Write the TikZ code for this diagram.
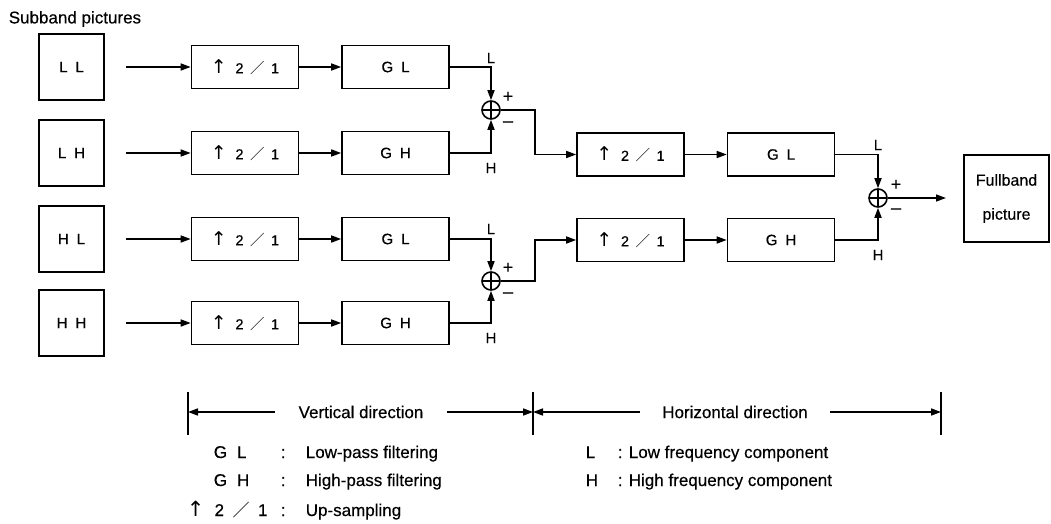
\documentclass[tikz,border=0pt]{standalone}
\usepackage{fontspec}
\setmainfont{Liberation Sans}[FakeBold=0.4]
\newfontfamily\symf{DejaVu Sans}
\newfontfamily\cjkf{Noto Sans CJK SC}
\usetikzlibrary{arrows.meta,calc}
\newcommand{\uparr}{{\symf\fontsize{19}{19}\selectfont ↑}}
\newcommand{\upsamp}{\uparr\hspace{0.6em}2\hspace{0.45em}{\cjkf ／}\hspace{0.45em}1}
\newcommand{\gapsp}{\hspace{8pt}}
\begin{document}
\begin{tikzpicture}[x=1pt,y=-1pt,line width=1.6pt,
  sub/.style={draw,minimum width=65pt,minimum height=66pt,inner sep=0pt,font=\fontsize{15}{17}\selectfont},
  upbox/.style={draw,minimum width=107pt,minimum height=43pt,inner sep=0pt,font=\fontsize{14.5}{16}\selectfont},
  gbox/.style={draw,minimum width=107pt,minimum height=43pt,inner sep=0pt,font=\fontsize{15}{17}\selectfont},
  sum/.style={draw,circle,minimum size=18pt,inner sep=0pt,
    path picture={\draw (path picture bounding box.north) -- (path picture bounding box.south)
      (path picture bounding box.west) -- (path picture bounding box.east);}},
  arr/.style={-{Triangle[length=10pt,width=7pt]}},
  lbl/.style={inner sep=0pt,font=\fontsize{15}{17}\selectfont},
  pm/.style={inner sep=0pt,font=\fontsize{18}{20}\selectfont},
  big/.style={inner sep=0pt,font=\fontsize{17}{20}\selectfont},
]
\useasboundingbox (0,0) rectangle (1051,524);
\node[big,anchor=west] (title) at (8,19) {Subband pictures};
% subband boxes
\node[sub] (LL) at (71.5,67) {L\gapsp L};
\node[sub] (LH) at (71.5,153) {L\gapsp H};
\node[sub] (HL) at (71.5,239) {H\gapsp L};
\node[sub] (HH) at (71.5,323) {H\gapsp H};
% stage 1
\node[upbox] (U1) at (245,67) {\upsamp};
\node[upbox] (U2) at (245,153) {\upsamp};
\node[upbox] (U3) at (245,239) {\upsamp};
\node[upbox] (U4) at (245,323) {\upsamp};
\node[gbox] (G1) at (395.5,67) {G\gapsp L};
\node[gbox] (G2) at (395.5,153) {G\gapsp H};
\node[gbox] (G3) at (395.5,239) {G\gapsp L};
\node[gbox] (G4) at (395.5,323) {G\gapsp H};
\foreach \a/\b in {LL/U1,LH/U2,HL/U3,HH/U4}{
  \coordinate (i\b) at ($(\a.east)+(21,0)$);
  \draw[arr] (i\b) -- (\b.west);
}
\foreach \a/\b in {U1/G1,U2/G2,U3/G3,U4/G4}{\draw[arr] (\a) -- (\b);}
% sums stage 1
\node[sum] (S1) at (491,110) {};
\node[sum] (S2) at (491,281) {};
\draw[arr] (G1.east) -| (S1.north);
\draw[arr] (G2.east) -| (S1.south);
\draw[arr] (G3.east) -| (S2.north);
\draw[arr] (G4.east) -| (S2.south);
\node[lbl] (l1) at (491,58) {L};
\node[lbl] (h1) at (491,168) {H};
\node[lbl] (l2) at (491,229) {L};
\node[lbl] (h2) at (491,338) {H};
\node[pm] (p1) at (508,97) {+};
\node[pm] (m1) at (508,124) {\textendash};
\node[pm] (p2) at (508,268) {+};
\node[pm] (m2) at (508,295) {\textendash};
% stage 2
\node[upbox] (U5) at (630.5,154.5) {\upsamp};
\node[upbox] (U6) at (630.5,240) {\upsamp};
\node[gbox] (G5) at (781,154.5) {G\gapsp L};
\node[gbox] (G6) at (781,240) {G\gapsp H};
\coordinate (k1) at (535,110);
\coordinate (k2) at (535,281);
\draw[arr] (S1.east) -- (k1) |- (U5.west);
\draw[arr] (S2.east) -- (k2) |- (U6.west);
\draw[arr] (U5) -- (G5);
\draw[arr] (U6) -- (G6);
\node[sum] (S3) at (878,198) {};
\draw[arr] (G5.east) -| (S3.north);
\draw[arr] (G6.east) -| (S3.south);
\node[lbl] (l3) at (878,145) {L};
\node[lbl] (h3) at (878,255) {H};
\node[pm] (p3) at (896,185) {+};
\node[pm] (m3) at (896,211) {\textendash};
\node[draw,minimum width=85pt,minimum height=87pt,inner sep=0pt,align=center,
  font=\fontsize{16}{34}\selectfont] (FB) at (1006.5,198.5) {Fullband\\picture};
\coordinate (o1) at (946,198);
\draw[arr] (S3.east) -- (o1);
% dimension lines
\coordinate (t1) at (188,412);
\coordinate (t2) at (533,412);
\coordinate (t3) at (941,412);
\foreach \t in {t1,t2,t3}{\draw ($(\t)+(0,-20)$) -- ($(\t)+(0,23)$);}
\node[big] (vd) at (361,412) {Vertical direction};
\node[big] (hd) at (735,412) {Horizontal direction};
\coordinate (a1) at (275,412);
\coordinate (a2) at (447,412);
\coordinate (a3) at (640,412);
\coordinate (a4) at (830,412);
\draw[arr] (a1) -- (t1);
\draw[arr] (a2) -- (t2);
\draw[arr] (a3) -- (t2);
\draw[arr] (a4) -- (t3);
% legend
\node[big,anchor=base west] (k1a) at (213,458) {G\hspace{10pt}L};
\node[big,anchor=base west] (k1b) at (280,458) {:};
\node[big,anchor=base west] (k1c) at (305,458) {Low-pass filtering};
\node[big,anchor=base west] (k2a) at (213,486) {G\hspace{10pt}H};
\node[big,anchor=base west] (k2b) at (280,486) {:};
\node[big,anchor=base west] (k2c) at (305,486) {High-pass filtering};
\node[big,anchor=base west] (k3a) at (186,516) {{\symf\fontsize{21}{21}\selectfont ↑}\hspace{0.6em}2\hspace{0.5em}{\cjkf ／}\hspace{0.5em}1};
\node[big,anchor=base west] (k3b) at (280,516) {:};
\node[big,anchor=base west] (k3c) at (305,516) {Up-sampling};
\node[big,anchor=base west] (k4a) at (585,458) {L};
\node[big,anchor=base west] (k4b) at (617,458) {: Low frequency component};
\node[big,anchor=base west] (k5a) at (585,486) {H};
\node[big,anchor=base west] (k5b) at (617,486) {: High frequency component};
\end{tikzpicture}
\end{document}
